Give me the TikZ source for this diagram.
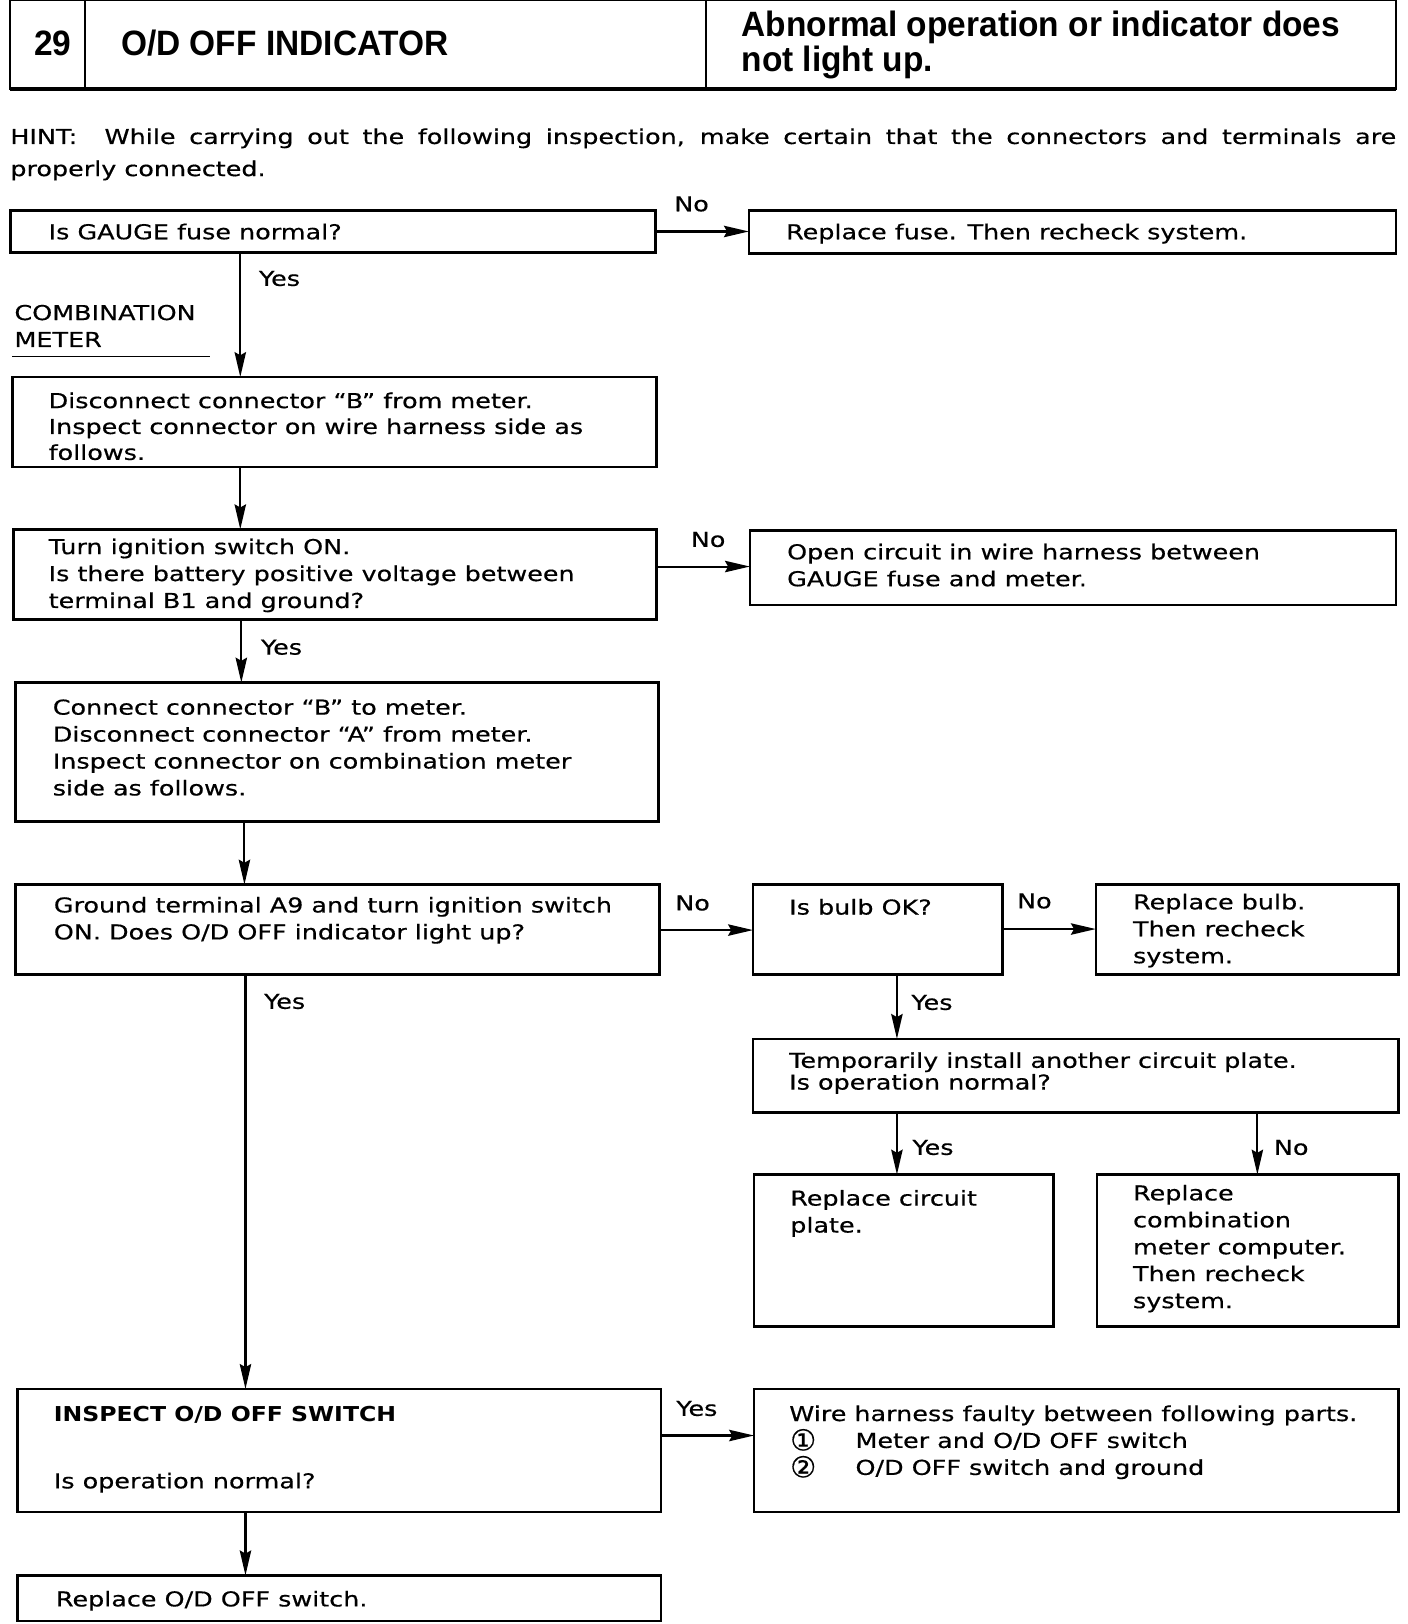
\documentclass[tikz,border=0pt]{standalone}
\usepackage{fontspec}
\setmainfont{DejaVu Sans}[FakeStretch=1.24,FakeBold=0.5]
\newfontfamily\hdfont{Liberation Sans}[FakeStretch=0.95]
\newfontfamily\bbfont{DejaVu Sans}[FakeStretch=1.15]
\newfontfamily\cnfont{DejaVu Sans}[FakeBold=0.5]
\usetikzlibrary{arrows.meta}
\newcommand\bodyf{\fontsize{9.9}{13}\selectfont}
\newcommand\cnum[1]{\makebox[32pt][l]{\hspace{0.5pt}\raisebox{-1.2pt}{\cnfont\fontsize{14}{13}\selectfont #1}}}
\newcommand\bx[5]{%
  \pgfmathsetmacro\bxw{(#4-#2)*0.5}%
  \pgfmathsetmacro\bxh{(#5-#3)*0.5}%
  \node[box, minimum width=\bxw pt, minimum height=\bxh pt] (#1) at ({(#2+#4)/2},{(#3+#5)/2}) {};}
\begin{document}
\begin{tikzpicture}[x=0.5pt,y=-0.5pt,
  box/.style={draw, line width=1.25pt, inner sep=0pt, outer sep=0pt},
  txt/.style={anchor=base west, inner sep=0pt, outer sep=0pt, align=left, font=\bodyf},
  hdr/.style={anchor=base west, inner sep=0pt, outer sep=0pt, align=left, font={\hdfont\bfseries\fontsize{17}{13.5}\selectfont}},
  arr/.style={line width=1pt, -{Stealth[length=12pt,width=5.5pt,inset=1.5pt]}}]
\useasboundingbox (0,0) rectangle (1359,1568);
% header
\coordinate (hA) at (10,0);
\coordinate (hB) at (1348,86);
\draw[line width=1pt] (hA) rectangle (hB);
\draw[line width=1.8pt] (hA |- hB) -- (hB);
\coordinate (hd1) at (82,0);
\coordinate (hd2) at (682,0);
\draw[line width=1pt] (hd1) -- (hd1 |- hB);
\draw[line width=1pt] (hd2) -- (hd2 |- hB);
\node[hdr] (h29) at (33,54) {29};
\node[hdr] (htitle) at (117,54) {O/D OFF INDICATOR};
\node[hdr] (hright) at (716,69) {Abnormal operation or indicator does\\not light up.};
% hint
\node[txt] (hint1) at (10,139) {\makebox[669pt][s]{HINT:~~While carrying out the following inspection, make certain that the connectors and terminals are}};
\node[txt] (hint2) at (10,170) {properly connected.};
% boxes
\bx{b1}{10}{203}{633}{244}
\bx{r1}{723}{203}{1348}{245}
\bx{b2}{12}{364}{634}{451}
\bx{b3}{13}{511}{634}{598}
\bx{r3}{724}{512}{1348}{584}
\bx{b4}{15}{659}{636}{793}
\bx{b5}{15}{854}{637}{941}
\bx{b6}{727}{854}{968}{941}
\bx{b7}{1058}{854}{1350}{941}
\bx{b8}{727}{1003}{1350}{1074}
\bx{b9}{728}{1134}{1017}{1281}
\bx{b10}{1059}{1134}{1350}{1281}
\bx{b11}{17}{1341}{638}{1460}
\bx{b12}{728}{1341}{1350}{1460}
\bx{b13}{17}{1521}{638}{1565}
% texts (multi-line nodes are placed at the baseline of their last line)
\node[txt] (t1) at (47,231) {Is GAUGE fuse normal?};
\node[txt] (tr1) at (759,231) {Replace fuse. Then recheck system.};
\node[txt] (cm) at (14,335) {COMBINATION\\METER};
\coordinate (ulA) at (12,344);
\coordinate (ulB) at (203,344);
\draw[line width=0.6pt] (ulA) -- (ulB);
\node[txt] (t2) at (47,444) {Disconnect connector “B” from meter.\\[-0.5pt]Inspect connector on wire harness side as\\[-0.5pt]follows.};
\node[txt] (t3) at (47,587) {Turn ignition switch ON.\\Is there battery positive voltage between\\terminal B1 and ground?};
\node[txt] (tr3) at (760,566) {Open circuit in wire harness between\\GAUGE fuse and meter.};
\node[txt] (t4) at (51,768) {Connect connector “B” to meter.\\Disconnect connector “A” from meter.\\Inspect connector on combination meter\\side as follows.};
\node[txt] (t5) at (52,907) {Ground terminal A9 and turn ignition switch\\ON. Does O/D OFF indicator light up?};
\node[txt] (t6) at (762,883) {Is bulb OK?};
\node[txt] (t7) at (1094,930) {Replace bulb.\\Then recheck\\system.};
\node[txt] (t8) at (762,1052) {Temporarily install another circuit plate.\\[-2.5pt]Is operation normal?};
\node[txt] (t9) at (763,1190) {Replace circuit\\plate.};
\node[txt] (t10) at (1094,1263) {Replace\\combination\\meter computer.\\Then recheck\\system.};
\node[txt,font={\bbfont\bfseries\fontsize{9.9}{13}\selectfont}] (t11a) at (52,1372) {INSPECT O/D OFF SWITCH};
\node[txt] (t11b) at (52,1437) {Is operation normal?};
\node[txt] (t12) at (762,1424) {Wire harness faulty between following parts.\\\cnum{①}Meter and O/D OFF switch\\\cnum{②}O/D OFF switch and ground};
\node[txt] (t13) at (54,1551) {Replace O/D OFF switch.};
% connector labels
\node[txt] (n1) at (651,204) {No};
\node[txt] (y1) at (250,276) {Yes};
\node[txt] (n3) at (667,528) {No};
\node[txt] (y3) at (252,632) {Yes};
\node[txt] (n5) at (652,879) {No};
\node[txt] (n6) at (982,877) {No};
\node[txt] (y6) at (880,975) {Yes};
\node[txt] (y5) at (255,974) {Yes};
\node[txt] (y8) at (881,1115) {Yes};
\node[txt] (n8) at (1230,1115) {No};
\node[txt] (y11) at (653,1367) {Yes};
% connector x / y positions
\coordinate (xa) at (232,0);
\coordinate (xb) at (233,0);
\coordinate (xc) at (236,0);
\coordinate (xd) at (237,0);
\coordinate (xe) at (866,0);
\coordinate (xf) at (1214,0);
\coordinate (ya) at (0,547);
\coordinate (yb) at (0,898);
\coordinate (yc) at (0,897);
\coordinate (yd) at (0,1386);
% connectors
\draw[arr] (b1.east) -- (b1.east -| r1.west);
\draw[arr] (b1.south -| xa) -- (b2.north -| xa);
\draw[arr] (b2.south -| xa) -- (b3.north -| xa);
\draw[arr] (b3.east |- ya) -- (r3.west |- ya);
\draw[arr] (b3.south -| xb) -- (b4.north -| xb);
\draw[arr] (b4.south -| xc) -- (b5.north -| xc);
\draw[arr] (b5.east |- yb) -- (b6.west |- yb);
\draw[arr] (b6.east |- yc) -- (b7.west |- yc);
\draw[arr] (b6.south -| xe) -- (b8.north -| xe);
\draw[arr] (b8.south -| xe) -- (b9.north -| xe);
\draw[arr] (b8.south -| xf) -- (b10.north -| xf);
\draw[arr] (b5.south -| xd) -- (b11.north -| xd);
\draw[arr] (b11.east |- yd) -- (b12.west |- yd);
\draw[arr] (b11.south -| xd) -- (b13.north -| xd);
\end{tikzpicture}
\end{document}
